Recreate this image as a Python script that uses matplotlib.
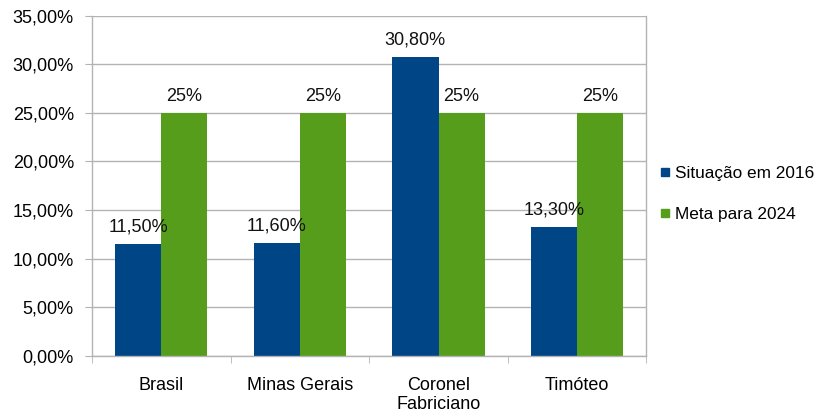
import numpy as np
import matplotlib.pyplot as plt
from matplotlib.lines import Line2D

plt.rcParams['font.family'] = ['Liberation Sans', 'DejaVu Sans']

categories = ['Brasil', 'Minas Gerais', 'Coronel\nFabriciano', 'Timóteo']
situacao_2016 = [0.115, 0.116, 0.308, 0.133]
meta_2024 = [0.25, 0.25, 0.25, 0.25]
labels_2016 = ['11,50%', '11,60%', '30,80%', '13,30%']
labels_2024 = ['25%', '25%', '25%', '25%']
yticks = [0, 0.05, 0.10, 0.15, 0.20, 0.25, 0.30, 0.35]

blue = '#004586'
green = '#579d1c'
grid_gray = '#b3b3b3'
fs = 13

fig = plt.figure(figsize=(8.16, 4.19), dpi=100)
ax = fig.add_axes([0.1127, 0.151, 0.6795, 0.8115])

x = np.arange(len(categories))
w = 1 / 3
b1 = ax.bar(x - w / 2, situacao_2016, w, color=blue, zorder=2)
b2 = ax.bar(x + w / 2, meta_2024, w, color=green, zorder=2)

for bars, texts in [(b1, labels_2016), (b2, labels_2024)]:
    for rect, txt in zip(bars, texts):
        ax.annotate(txt, (rect.get_x() + rect.get_width() / 2, rect.get_height()),
                    xytext=(0, 6), textcoords='offset points', ha='center', va='bottom',
                    fontsize=fs, color='#111111', zorder=3)

ax.set_xlim(-0.5, len(categories) - 0.5)
ax.set_ylim(0, 0.35)
ax.set_yticks(yticks)
ax.set_yticklabels([f'{v * 100:.2f}%'.replace('.', ',') for v in yticks], fontsize=fs)
ax.yaxis.grid(True, color=grid_gray, linewidth=1, zorder=0)
ax.set_axisbelow(True)

ax.set_xticks(x)
ax.set_xticklabels(categories, fontsize=fs, linespacing=1.2)
ax.set_xticks(np.arange(len(categories) + 1) - 0.5, minor=True)
ax.tick_params(axis='x', which='major', length=0, pad=15)
ax.tick_params(axis='x', which='minor', length=5, color=grid_gray, direction='out')
ax.tick_params(axis='y', length=5, color=grid_gray, pad=8)

for side in ['left', 'bottom', 'right']:
    ax.spines[side].set_color(grid_gray)
    ax.spines[side].set_linewidth(1)
ax.spines['top'].set_visible(False)

handles = [Line2D([], [], marker='s', linestyle='none', markersize=6, color=blue),
           Line2D([], [], marker='s', linestyle='none', markersize=6, color=green)]
fig.legend(handles, ['Situação em 2016', 'Meta para 2024'], loc='center left',
           bbox_to_anchor=(0.79, 0.538), frameon=False, fontsize=12.4,
           handlelength=0.6, handletextpad=0.25, labelspacing=1.5)

fig.savefig('out.png', dpi=100)
